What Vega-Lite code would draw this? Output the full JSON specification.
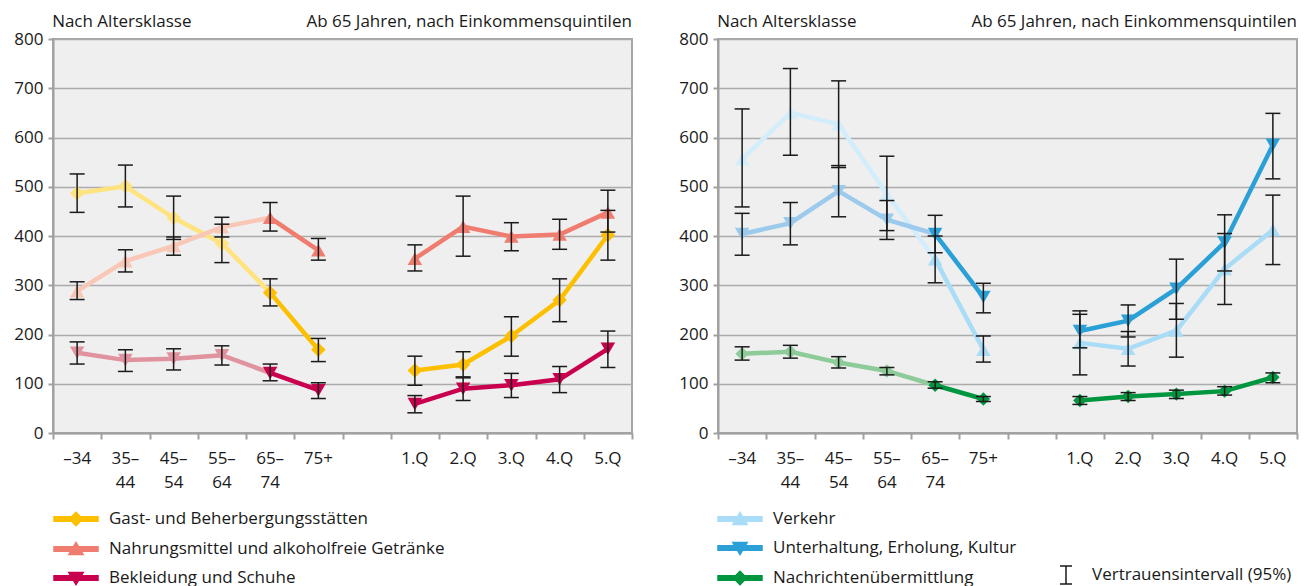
{
  "$schema": "https://vega.github.io/schema/vega-lite/v6.json",
  "padding": {"left": 12, "top": 12, "right": 0, "bottom": 0},
  "spacing": 43,
  "config": {
    "font": "Open Sans",
    "view": {"fill": "#EFEFEF", "stroke": "#A6A6A6", "strokeWidth": 2},
    "legend": {"labelFont": "Open Sans", "labelFontSize": 17, "labelColor": "#1A1A1A", "labelLimit": 0},
    "axis": {"labelFont": "Open Sans", "labelFontSize": 17, "labelColor": "#1A1A1A", "domainColor": "#A0A0A0", "domainWidth": 2, "tickColor": "#A0A0A0", "tickWidth": 2}
  },
  "datasets": {
    "L": [
      {"s": "Gast- und Beherbergungsstätten", "k": "–34", "v": 487, "lo": 448, "hi": 526},
      {"s": "Gast- und Beherbergungsstätten", "k": "35–44", "v": 501, "lo": 459, "hi": 544},
      {"s": "Gast- und Beherbergungsstätten", "k": "45–54", "v": 437, "lo": 393, "hi": 481},
      {"s": "Gast- und Beherbergungsstätten", "k": "55–64", "v": 385, "lo": 346, "hi": 424},
      {"s": "Gast- und Beherbergungsstätten", "k": "65–74", "v": 285, "lo": 258, "hi": 313},
      {"s": "Gast- und Beherbergungsstätten", "k": "75+", "v": 169, "lo": 145, "hi": 192},
      {"s": "Gast- und Beherbergungsstätten", "k": "1.Q", "v": 127, "lo": 97, "hi": 156},
      {"s": "Gast- und Beherbergungsstätten", "k": "2.Q", "v": 139, "lo": 114, "hi": 165},
      {"s": "Gast- und Beherbergungsstätten", "k": "3.Q", "v": 197, "lo": 156, "hi": 236},
      {"s": "Gast- und Beherbergungsstätten", "k": "4.Q", "v": 270, "lo": 226, "hi": 313},
      {"s": "Gast- und Beherbergungsstätten", "k": "5.Q", "v": 402, "lo": 351, "hi": 452},
      {"s": "Nahrungsmittel und alkoholfreie Getränke", "k": "–34", "v": 288, "lo": 271, "hi": 307},
      {"s": "Nahrungsmittel und alkoholfreie Getränke", "k": "35–44", "v": 349, "lo": 327, "hi": 372},
      {"s": "Nahrungsmittel und alkoholfreie Getränke", "k": "45–54", "v": 380, "lo": 361, "hi": 398},
      {"s": "Nahrungsmittel und alkoholfreie Getränke", "k": "55–64", "v": 418, "lo": 398, "hi": 438},
      {"s": "Nahrungsmittel und alkoholfreie Getränke", "k": "65–74", "v": 437, "lo": 410, "hi": 468},
      {"s": "Nahrungsmittel und alkoholfreie Getränke", "k": "75+", "v": 371, "lo": 351, "hi": 395},
      {"s": "Nahrungsmittel und alkoholfreie Getränke", "k": "1.Q", "v": 354, "lo": 329, "hi": 382},
      {"s": "Nahrungsmittel und alkoholfreie Getränke", "k": "2.Q", "v": 419, "lo": 359, "hi": 481},
      {"s": "Nahrungsmittel und alkoholfreie Getränke", "k": "3.Q", "v": 399, "lo": 370, "hi": 427},
      {"s": "Nahrungsmittel und alkoholfreie Getränke", "k": "4.Q", "v": 403, "lo": 373, "hi": 434},
      {"s": "Nahrungsmittel und alkoholfreie Getränke", "k": "5.Q", "v": 448, "lo": 408, "hi": 493},
      {"s": "Bekleidung und Schuhe", "k": "–34", "v": 163, "lo": 140, "hi": 185},
      {"s": "Bekleidung und Schuhe", "k": "35–44", "v": 148, "lo": 125, "hi": 169},
      {"s": "Bekleidung und Schuhe", "k": "45–54", "v": 151, "lo": 128, "hi": 171},
      {"s": "Bekleidung und Schuhe", "k": "55–64", "v": 158, "lo": 138, "hi": 177},
      {"s": "Bekleidung und Schuhe", "k": "65–74", "v": 122, "lo": 106, "hi": 140},
      {"s": "Bekleidung und Schuhe", "k": "75+", "v": 87, "lo": 70, "hi": 102},
      {"s": "Bekleidung und Schuhe", "k": "1.Q", "v": 59, "lo": 41, "hi": 76},
      {"s": "Bekleidung und Schuhe", "k": "2.Q", "v": 90, "lo": 66, "hi": 112},
      {"s": "Bekleidung und Schuhe", "k": "3.Q", "v": 97, "lo": 72, "hi": 121},
      {"s": "Bekleidung und Schuhe", "k": "4.Q", "v": 109, "lo": 82, "hi": 135},
      {"s": "Bekleidung und Schuhe", "k": "5.Q", "v": 171, "lo": 133, "hi": 207}
    ],
    "R": [
      {"s": "Verkehr", "k": "–34", "v": 556, "lo": 459, "hi": 658},
      {"s": "Verkehr", "k": "35–44", "v": 650, "lo": 564, "hi": 740},
      {"s": "Verkehr", "k": "45–54", "v": 627, "lo": 539, "hi": 715},
      {"s": "Verkehr", "k": "55–64", "v": 485, "lo": 411, "hi": 562},
      {"s": "Verkehr", "k": "65–74", "v": 353, "lo": 305, "hi": 400},
      {"s": "Verkehr", "k": "75+", "v": 169, "lo": 144, "hi": 197},
      {"s": "Verkehr", "k": "1.Q", "v": 183, "lo": 118, "hi": 248},
      {"s": "Verkehr", "k": "2.Q", "v": 171, "lo": 136, "hi": 206},
      {"s": "Verkehr", "k": "3.Q", "v": 208, "lo": 154, "hi": 263},
      {"s": "Verkehr", "k": "4.Q", "v": 333, "lo": 261, "hi": 405},
      {"s": "Verkehr", "k": "5.Q", "v": 412, "lo": 342, "hi": 483},
      {"s": "Unterhaltung, Erholung, Kultur", "k": "–34", "v": 404, "lo": 361, "hi": 446},
      {"s": "Unterhaltung, Erholung, Kultur", "k": "35–44", "v": 426, "lo": 382, "hi": 468},
      {"s": "Unterhaltung, Erholung, Kultur", "k": "45–54", "v": 491, "lo": 439, "hi": 543},
      {"s": "Unterhaltung, Erholung, Kultur", "k": "55–64", "v": 433, "lo": 393, "hi": 472},
      {"s": "Unterhaltung, Erholung, Kultur", "k": "65–74", "v": 404, "lo": 366, "hi": 442},
      {"s": "Unterhaltung, Erholung, Kultur", "k": "75+", "v": 276, "lo": 244, "hi": 304},
      {"s": "Unterhaltung, Erholung, Kultur", "k": "1.Q", "v": 207, "lo": 173, "hi": 241},
      {"s": "Unterhaltung, Erholung, Kultur", "k": "2.Q", "v": 228, "lo": 195, "hi": 260},
      {"s": "Unterhaltung, Erholung, Kultur", "k": "3.Q", "v": 293, "lo": 231, "hi": 353},
      {"s": "Unterhaltung, Erholung, Kultur", "k": "4.Q", "v": 387, "lo": 329, "hi": 443},
      {"s": "Unterhaltung, Erholung, Kultur", "k": "5.Q", "v": 585, "lo": 516, "hi": 649},
      {"s": "Nachrichtenübermittlung", "k": "–34", "v": 161, "lo": 148, "hi": 175},
      {"s": "Nachrichtenübermittlung", "k": "35–44", "v": 165, "lo": 152, "hi": 178},
      {"s": "Nachrichtenübermittlung", "k": "45–54", "v": 143, "lo": 132, "hi": 155},
      {"s": "Nachrichtenübermittlung", "k": "55–64", "v": 126, "lo": 118, "hi": 133},
      {"s": "Nachrichtenübermittlung", "k": "65–74", "v": 97, "lo": 91, "hi": 104},
      {"s": "Nachrichtenübermittlung", "k": "75+", "v": 69, "lo": 64, "hi": 74},
      {"s": "Nachrichtenübermittlung", "k": "1.Q", "v": 66, "lo": 58, "hi": 74},
      {"s": "Nachrichtenübermittlung", "k": "2.Q", "v": 74, "lo": 66, "hi": 82},
      {"s": "Nachrichtenübermittlung", "k": "3.Q", "v": 79, "lo": 70, "hi": 87},
      {"s": "Nachrichtenübermittlung", "k": "4.Q", "v": 85, "lo": 77, "hi": 94},
      {"s": "Nachrichtenübermittlung", "k": "5.Q", "v": 113, "lo": 102, "hi": 122}
    ],
    "XL": [
      {"k": "–34", "a": "–34", "b": ""},
      {"k": "35–44", "a": "35–", "b": "44"},
      {"k": "45–54", "a": "45–", "b": "54"},
      {"k": "55–64", "a": "55–", "b": "64"},
      {"k": "65–74", "a": "65–", "b": "74"},
      {"k": "75+", "a": "75+", "b": ""},
      {"k": "1.Q", "a": "1.Q", "b": ""},
      {"k": "2.Q", "a": "2.Q", "b": ""},
      {"k": "3.Q", "a": "3.Q", "b": ""},
      {"k": "4.Q", "a": "4.Q", "b": ""},
      {"k": "5.Q", "a": "5.Q", "b": ""}
    ]
  },
  "hconcat": [
    {
      "width": 579, "height": 394,
      "data": {"name": "L"},
      "encoding": {
        "x": {"field": "k", "type": "nominal", "title": null,
          "sort": ["–34","35–44","45–54","55–64","65–74","75+"," ","1.Q","2.Q","3.Q","4.Q","5.Q"],
          "scale": {"domain": ["–34","35–44","45–54","55–64","65–74","75+"," ","1.Q","2.Q","3.Q","4.Q","5.Q"], "paddingInner": 0, "paddingOuter": 0},
          "axis": {"tickBand": "extent", "tickSize": 6, "labels": false, "grid": false}}
      },
      "layer": [
        {"mark": {"type": "point", "filled": true, "opacity": 0, "size": 10},
         "encoding": {
           "y": {"field": "v", "type": "quantitative", "title": null, "scale": {"domain": [0, 800], "nice": false},
             "axis": {"values": [0,100,200,300,400,500,600,700,800], "tickSize": 5, "labelPadding": 5, "minExtent": 40, "maxExtent": 40, "grid": true, "gridColor": "#ABABAB", "gridWidth": 1.5}},
           "color": {"field": "s", "type": "nominal", "scale": {"domain": ["Gast- und Beherbergungsstätten","Nahrungsmittel und alkoholfreie Getränke","Bekleidung und Schuhe"], "range": ["#FDC000","#F07C70","#C8004E"]},
             "legend": {"orient": "none", "legendX": 11, "legendY": 468, "title": null, "direction": "vertical", "symbolSize": 484, "symbolStrokeColor": "transparent", "symbolOpacity": 1, "labelOffset": 21, "rowPadding": 8, "padding": 0}},
           "shape": {"field": "s", "type": "nominal", "scale": {"domain": ["Gast- und Beherbergungsstätten","Nahrungsmittel und alkoholfreie Getränke","Bekleidung und Schuhe"],
               "range": ["M-2,-0.2L2,-0.2L2,0.2L-2,0.2Z M0,-0.6L0.6,0L0,0.6L-0.6,0Z", "M-2,-0.2L2,-0.2L2,0.2L-2,0.2Z M0,-0.6L0.65,0.5L-0.65,0.5Z", "M-2,-0.2L2,-0.2L2,0.2L-2,0.2Z M-0.65,-0.5L0.65,-0.5L0,0.6Z"]},
             "legend": {"orient": "none", "legendX": 11, "legendY": 468, "title": null, "direction": "vertical", "symbolSize": 484, "symbolStrokeColor": "transparent", "symbolOpacity": 1, "labelOffset": 21, "rowPadding": 8, "padding": 0}}}},
        {"transform": [{"filter": {"field": "k", "oneOf": ["–34","35–44","45–54","55–64","65–74"]}}],
         "mark": {"type": "line", "strokeWidth": 4.5},
         "encoding": {
           "y": {"field": "v", "type": "quantitative", "title": null},
           "stroke": {"field": "s", "type": "nominal", "scale": {"domain": ["Gast- und Beherbergungsstätten","Nahrungsmittel und alkoholfreie Getränke","Bekleidung und Schuhe"], "range": ["#FFE37F","#F9C7B6","#E1929F"]}, "legend": null}}},
        {"transform": [{"filter": {"field": "k", "oneOf": ["65–74","75+"]}}],
         "mark": {"type": "line", "strokeWidth": 4.5},
         "encoding": {
           "y": {"field": "v", "type": "quantitative", "title": null},
           "color": {"field": "s", "type": "nominal", "legend": null}}},
        {"transform": [{"filter": {"field": "k", "oneOf": ["1.Q","2.Q","3.Q","4.Q","5.Q"]}}],
         "mark": {"type": "line", "strokeWidth": 4.5},
         "encoding": {
           "y": {"field": "v", "type": "quantitative", "title": null},
           "color": {"field": "s", "type": "nominal", "legend": null}}},
        {"transform": [{"filter": {"and": [{"field": "s", "equal": "Gast- und Beherbergungsstätten"}, {"field": "k", "oneOf": ["–34","35–44","45–54","55–64"]}]}}],
         "mark": {"type": "point", "shape": "diamond", "filled": true, "fill": "#FFE37F", "size": 210, "strokeWidth": 0, "opacity": 1},
         "encoding": {"y": {"field": "v", "type": "quantitative", "title": null}}},
        {"transform": [{"filter": {"and": [{"field": "s", "equal": "Nahrungsmittel und alkoholfreie Getränke"}, {"field": "k", "oneOf": ["–34","35–44","45–54","55–64"]}]}}],
         "mark": {"type": "point", "shape": "triangle-up", "filled": true, "fill": "#F9C7B6", "size": 210, "strokeWidth": 0, "opacity": 1},
         "encoding": {"y": {"field": "v", "type": "quantitative", "title": null}}},
        {"transform": [{"filter": {"and": [{"field": "s", "equal": "Bekleidung und Schuhe"}, {"field": "k", "oneOf": ["–34","35–44","45–54","55–64"]}]}}],
         "mark": {"type": "point", "shape": "triangle-down", "filled": true, "fill": "#E1929F", "size": 210, "strokeWidth": 0, "opacity": 1},
         "encoding": {"y": {"field": "v", "type": "quantitative", "title": null}}},
        {"transform": [{"filter": {"and": [{"field": "s", "equal": "Gast- und Beherbergungsstätten"}, {"field": "k", "oneOf": ["65–74","75+","1.Q","2.Q","3.Q","4.Q","5.Q"]}]}}],
         "mark": {"type": "point", "shape": "diamond", "filled": true, "fill": "#FDC000", "size": 210, "strokeWidth": 0, "opacity": 1},
         "encoding": {"y": {"field": "v", "type": "quantitative", "title": null}}},
        {"transform": [{"filter": {"and": [{"field": "s", "equal": "Nahrungsmittel und alkoholfreie Getränke"}, {"field": "k", "oneOf": ["65–74","75+","1.Q","2.Q","3.Q","4.Q","5.Q"]}]}}],
         "mark": {"type": "point", "shape": "triangle-up", "filled": true, "fill": "#F07C70", "size": 210, "strokeWidth": 0, "opacity": 1},
         "encoding": {"y": {"field": "v", "type": "quantitative", "title": null}}},
        {"transform": [{"filter": {"and": [{"field": "s", "equal": "Bekleidung und Schuhe"}, {"field": "k", "oneOf": ["65–74","75+","1.Q","2.Q","3.Q","4.Q","5.Q"]}]}}],
         "mark": {"type": "point", "shape": "triangle-down", "filled": true, "fill": "#C8004E", "size": 210, "strokeWidth": 0, "opacity": 1},
         "encoding": {"y": {"field": "v", "type": "quantitative", "title": null}}},
        {"mark": {"type": "rule", "color": "#1A1A1A", "strokeWidth": 1.5},
         "encoding": {"y": {"field": "lo", "type": "quantitative", "title": null}, "y2": {"field": "hi"}}},
        {"mark": {"type": "tick", "color": "#1A1A1A", "thickness": 1.5, "size": 15, "opacity": 1},
         "encoding": {"y": {"field": "lo", "type": "quantitative", "title": null}}},
        {"mark": {"type": "tick", "color": "#1A1A1A", "thickness": 1.5, "size": 15, "opacity": 1},
         "encoding": {"y": {"field": "hi", "type": "quantitative", "title": null}}},
        {"data": {"name": "XL"},
         "mark": {"type": "text", "align": "center", "baseline": "alphabetic", "dy": 31, "fontSize": 17, "color": "#1A1A1A", "font": "Open Sans"},
         "encoding": {"text": {"field": "a"}, "y": {"datum": 0}}},
        {"data": {"name": "XL"},
         "mark": {"type": "text", "align": "center", "baseline": "alphabetic", "dy": 55, "fontSize": 17, "color": "#1A1A1A", "font": "Open Sans"},
         "encoding": {"text": {"field": "b"}, "y": {"datum": 0}}},
        {"data": {"values": [{"t": "Nach Altersklasse"}]},
         "mark": {"type": "text", "align": "left", "baseline": "alphabetic", "dx": -25, "dy": -12, "fontSize": 17, "color": "#1A1A1A", "font": "Open Sans"},
         "encoding": {"text": {"field": "t"}, "x": {"datum": "–34"}, "y": {"datum": 800}}},
        {"data": {"values": [{"t": "Ab 65 Jahren, nach Einkommensquintilen"}]},
         "mark": {"type": "text", "align": "right", "baseline": "alphabetic", "dx": 24, "dy": -12, "fontSize": 17, "color": "#1A1A1A", "font": "Open Sans"},
         "encoding": {"text": {"field": "t"}, "x": {"datum": "5.Q"}, "y": {"datum": 800}}}
      ]
    },
    {
      "width": 579, "height": 394,
      "data": {"name": "R"},
      "encoding": {
        "x": {"field": "k", "type": "nominal", "title": null,
          "sort": ["–34","35–44","45–54","55–64","65–74","75+"," ","1.Q","2.Q","3.Q","4.Q","5.Q"],
          "scale": {"domain": ["–34","35–44","45–54","55–64","65–74","75+"," ","1.Q","2.Q","3.Q","4.Q","5.Q"], "paddingInner": 0, "paddingOuter": 0},
          "axis": {"tickBand": "extent", "tickSize": 6, "labels": false, "grid": false}}
      },
      "layer": [
        {"mark": {"type": "point", "filled": true, "opacity": 0, "size": 10},
         "encoding": {
           "y": {"field": "v", "type": "quantitative", "title": null, "scale": {"domain": [0, 800], "nice": false},
             "axis": {"values": [0,100,200,300,400,500,600,700,800], "tickSize": 5, "labelPadding": 5, "minExtent": 40, "maxExtent": 40, "grid": true, "gridColor": "#ABABAB", "gridWidth": 1.5}},
           "color": {"field": "s", "type": "nominal", "scale": {"domain": ["Verkehr","Unterhaltung, Erholung, Kultur","Nachrichtenübermittlung"], "range": ["#A9DCF6","#2AA0D6","#00963F"]},
             "legend": {"orient": "none", "legendX": 10, "legendY": 468, "title": null, "direction": "vertical", "symbolSize": 484, "symbolStrokeColor": "transparent", "symbolOpacity": 1, "labelOffset": 21, "rowPadding": 8, "padding": 0}},
           "shape": {"field": "s", "type": "nominal", "scale": {"domain": ["Verkehr","Unterhaltung, Erholung, Kultur","Nachrichtenübermittlung"],
               "range": ["M-2,-0.2L2,-0.2L2,0.2L-2,0.2Z M0,-0.6L0.65,0.5L-0.65,0.5Z", "M-2,-0.2L2,-0.2L2,0.2L-2,0.2Z M-0.65,-0.5L0.65,-0.5L0,0.6Z", "M-2,-0.2L2,-0.2L2,0.2L-2,0.2Z M0,-0.6L0.6,0L0,0.6L-0.6,0Z"]},
             "legend": {"orient": "none", "legendX": 10, "legendY": 468, "title": null, "direction": "vertical", "symbolSize": 484, "symbolStrokeColor": "transparent", "symbolOpacity": 1, "labelOffset": 21, "rowPadding": 8, "padding": 0}}}},
        {"transform": [{"filter": {"field": "k", "oneOf": ["–34","35–44","45–54","55–64","65–74"]}}],
         "mark": {"type": "line", "strokeWidth": 4.5},
         "encoding": {
           "y": {"field": "v", "type": "quantitative", "title": null},
           "stroke": {"field": "s", "type": "nominal", "scale": {"domain": ["Verkehr","Unterhaltung, Erholung, Kultur","Nachrichtenübermittlung"], "range": ["#D2EDFB","#9CCAEC","#8DCB98"]}, "legend": null}}},
        {"transform": [{"filter": {"field": "k", "oneOf": ["65–74","75+"]}}],
         "mark": {"type": "line", "strokeWidth": 4.5},
         "encoding": {
           "y": {"field": "v", "type": "quantitative", "title": null},
           "color": {"field": "s", "type": "nominal", "legend": null}}},
        {"transform": [{"filter": {"field": "k", "oneOf": ["1.Q","2.Q","3.Q","4.Q","5.Q"]}}],
         "mark": {"type": "line", "strokeWidth": 4.5},
         "encoding": {
           "y": {"field": "v", "type": "quantitative", "title": null},
           "color": {"field": "s", "type": "nominal", "legend": null}}},
        {"transform": [{"filter": {"and": [{"field": "s", "equal": "Verkehr"}, {"field": "k", "oneOf": ["–34","35–44","45–54","55–64"]}]}}],
         "mark": {"type": "point", "shape": "triangle-up", "filled": true, "fill": "#D2EDFB", "size": 210, "strokeWidth": 0, "opacity": 1},
         "encoding": {"y": {"field": "v", "type": "quantitative", "title": null}}},
        {"transform": [{"filter": {"and": [{"field": "s", "equal": "Unterhaltung, Erholung, Kultur"}, {"field": "k", "oneOf": ["–34","35–44","45–54","55–64"]}]}}],
         "mark": {"type": "point", "shape": "triangle-down", "filled": true, "fill": "#9CCAEC", "size": 210, "strokeWidth": 0, "opacity": 1},
         "encoding": {"y": {"field": "v", "type": "quantitative", "title": null}}},
        {"transform": [{"filter": {"and": [{"field": "s", "equal": "Nachrichtenübermittlung"}, {"field": "k", "oneOf": ["–34","35–44","45–54","55–64"]}]}}],
         "mark": {"type": "point", "shape": "diamond", "filled": true, "fill": "#8DCB98", "size": 180, "strokeWidth": 0, "opacity": 1},
         "encoding": {"y": {"field": "v", "type": "quantitative", "title": null}}},
        {"transform": [{"filter": {"and": [{"field": "s", "equal": "Verkehr"}, {"field": "k", "oneOf": ["65–74","75+","1.Q","2.Q","3.Q","4.Q","5.Q"]}]}}],
         "mark": {"type": "point", "shape": "triangle-up", "filled": true, "fill": "#A9DCF6", "size": 210, "strokeWidth": 0, "opacity": 1},
         "encoding": {"y": {"field": "v", "type": "quantitative", "title": null}}},
        {"transform": [{"filter": {"and": [{"field": "s", "equal": "Unterhaltung, Erholung, Kultur"}, {"field": "k", "oneOf": ["65–74","75+","1.Q","2.Q","3.Q","4.Q","5.Q"]}]}}],
         "mark": {"type": "point", "shape": "triangle-down", "filled": true, "fill": "#2AA0D6", "size": 210, "strokeWidth": 0, "opacity": 1},
         "encoding": {"y": {"field": "v", "type": "quantitative", "title": null}}},
        {"transform": [{"filter": {"and": [{"field": "s", "equal": "Nachrichtenübermittlung"}, {"field": "k", "oneOf": ["65–74","75+","1.Q","2.Q","3.Q","4.Q","5.Q"]}]}}],
         "mark": {"type": "point", "shape": "diamond", "filled": true, "fill": "#00963F", "size": 180, "strokeWidth": 0, "opacity": 1},
         "encoding": {"y": {"field": "v", "type": "quantitative", "title": null}}},
        {"mark": {"type": "rule", "color": "#1A1A1A", "strokeWidth": 1.5},
         "encoding": {"y": {"field": "lo", "type": "quantitative", "title": null}, "y2": {"field": "hi"},
           "strokeDash": {"datum": "Vertrauensintervall (95%)", "scale": {"range": [[1, 0]]},
             "legend": {"orient": "none", "legendX": 338, "legendY": 526, "title": null, "symbolType": "M-0.67,-1L0.67,-1M0,-1L0,1M-0.67,1L0.67,1", "symbolSize": 324, "symbolStrokeColor": "#1A1A1A", "symbolStrokeWidth": 1.5, "symbolFillColor": "transparent", "labelOffset": 16, "padding": 0}}}},
        {"mark": {"type": "tick", "color": "#1A1A1A", "thickness": 1.5, "size": 15, "opacity": 1},
         "encoding": {"y": {"field": "lo", "type": "quantitative", "title": null}}},
        {"mark": {"type": "tick", "color": "#1A1A1A", "thickness": 1.5, "size": 15, "opacity": 1},
         "encoding": {"y": {"field": "hi", "type": "quantitative", "title": null}}},
        {"data": {"name": "XL"},
         "mark": {"type": "text", "align": "center", "baseline": "alphabetic", "dy": 31, "fontSize": 17, "color": "#1A1A1A", "font": "Open Sans"},
         "encoding": {"text": {"field": "a"}, "y": {"datum": 0}}},
        {"data": {"name": "XL"},
         "mark": {"type": "text", "align": "center", "baseline": "alphabetic", "dy": 55, "fontSize": 17, "color": "#1A1A1A", "font": "Open Sans"},
         "encoding": {"text": {"field": "b"}, "y": {"datum": 0}}},
        {"data": {"values": [{"t": "Nach Altersklasse"}]},
         "mark": {"type": "text", "align": "left", "baseline": "alphabetic", "dx": -25, "dy": -12, "fontSize": 17, "color": "#1A1A1A", "font": "Open Sans"},
         "encoding": {"text": {"field": "t"}, "x": {"datum": "–34"}, "y": {"datum": 800}}},
        {"data": {"values": [{"t": "Ab 65 Jahren, nach Einkommensquintilen"}]},
         "mark": {"type": "text", "align": "right", "baseline": "alphabetic", "dx": 24, "dy": -12, "fontSize": 17, "color": "#1A1A1A", "font": "Open Sans"},
         "encoding": {"text": {"field": "t"}, "x": {"datum": "5.Q"}, "y": {"datum": 800}}}
      ]
    }
  ],
  "resolve": {"scale": {"color": "independent", "stroke": "independent", "shape": "independent", "strokeDash": "independent"}}
}
